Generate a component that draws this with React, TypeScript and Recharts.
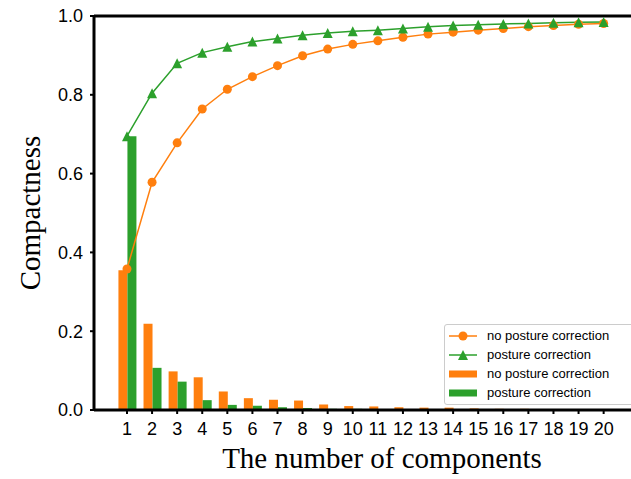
import { Bar, ComposedChart, Legend, Line, ReferenceLine, XAxis, YAxis } from "recharts";

const ORANGE = "#ff7f0e";
const GREEN = "#2ca02c";

const components = [1, 2, 3, 4, 5, 6, 7, 8, 9, 10, 11, 12, 13, 14, 15, 16, 17, 18, 19, 20];
const noCorrCumulative = [0.358, 0.578, 0.678, 0.764, 0.814, 0.846, 0.874, 0.899, 0.916, 0.928, 0.937, 0.946, 0.954, 0.959, 0.964, 0.968, 0.973, 0.976, 0.979, 0.981];
const corrCumulative = [0.695, 0.804, 0.88, 0.907, 0.922, 0.935, 0.943, 0.951, 0.957, 0.961, 0.964, 0.968, 0.973, 0.976, 0.978, 0.98, 0.981, 0.983, 0.984, 0.985];
const noCorrSingle = [0.355, 0.219, 0.098, 0.083, 0.047, 0.03, 0.026, 0.024, 0.014, 0.01, 0.009, 0.007, 0.006, 0.006, 0.004, 0.003, 0.003, 0.002, 0.002, 0.002];
const corrSingle = [0.695, 0.107, 0.072, 0.025, 0.013, 0.011, 0.007, 0.005, 0.003, 0.003, 0.002, 0.002, 0.002, 0.002, 0.001, 0.001, 0.001, 0.001, 0.001, 0.001];
const yTicks = [0, 0.2, 0.4, 0.6, 0.8, 1.0];

const data = components.map((n, i) => ({
  n,
  noCorrCum: noCorrCumulative[i],
  corrCum: corrCumulative[i],
  noCorr: noCorrSingle[i],
  corr: corrSingle[i],
}));

const TICK_FONT = "'Liberation Sans', Arial, sans-serif";
const TITLE_FONT = "'Liberation Serif', 'Times New Roman', serif";

function Circle({ cx, cy }: any) {
  if (cx == null || cy == null) return null;
  return <circle cx={cx} cy={cy} r={4.5} fill={ORANGE} />;
}

function Triangle({ cx, cy }: any) {
  if (cx == null || cy == null) return null;
  const s = 5;
  return <path d={`M${cx},${cy - s} L${cx - s},${cy + s} L${cx + s},${cy + s} Z`} fill={GREEN} />;
}

function LegendBox() {
  const rows = [
    { kind: "line", color: ORANGE, label: "no posture correction" },
    { kind: "tri", color: GREEN, label: "posture correction" },
    { kind: "bar", color: ORANGE, label: "no posture correction" },
    { kind: "bar", color: GREEN, label: "posture correction" },
  ];
  return (
    <div
      style={{
        border: "1px solid #cccccc",
        borderRadius: 3,
        background: "rgba(255,255,255,0.8)",
        width: 200,
        height: 81,
        boxSizing: "border-box",
        padding: "1px 0 0 3px",
        fontFamily: TICK_FONT,
        fontSize: 13,
        color: "#000",
      }}
    >
      {rows.map((r, i) => (
        <div key={i} style={{ display: "flex", alignItems: "center", height: 19 }}>
          <svg width={30} height={12} style={{ marginRight: 9 }}>
            {r.kind === "bar" ? (
              <rect x={1} y={2.5} width={28} height={7} fill={r.color} />
            ) : (
              <>
                <line x1={1} y1={6} x2={29} y2={6} stroke={r.color} strokeWidth={1.5} />
                {r.kind === "line" ? (
                  <circle cx={15} cy={6} r={4.5} fill={r.color} />
                ) : (
                  <path d="M15,1 L10,11 L20,11 Z" fill={r.color} />
                )}
              </>
            )}
          </svg>
          <span>{r.label}</span>
        </div>
      ))}
    </div>
  );
}

export default function App() {
  return (
    <div style={{ position: "fixed", left: 0, top: 0, width: 631, height: 479, overflow: "hidden", background: "#fff" }}>
      <ComposedChart
        width={680}
        height={479}
        data={data}
        margin={{ top: 16, right: 11, bottom: 0, left: 0 }}
        barGap={0}
      >
        <XAxis
          dataKey="n"
          type="number"
          domain={[-0.3145, 22.605]}
          ticks={components}
          interval={0}
          height={69}
          axisLine={{ stroke: "#000", strokeWidth: 3 }}
          tickLine={{ stroke: "#000", strokeWidth: 2 }}
          tickSize={4}
          tickMargin={8}
          tick={{ fill: "#000", fontSize: 18, fontFamily: TICK_FONT }}
          label={() => (
            <text x={382} y={468} textAnchor="middle" fontFamily={TITLE_FONT} fontSize={29} fill="#000">
              The number of components
            </text>
          )}
        />
        <YAxis
          type="number"
          domain={[0, 1]}
          ticks={yTicks}
          width={94}
          axisLine={{ stroke: "#000", strokeWidth: 3 }}
          tickLine={{ stroke: "#000", strokeWidth: 2 }}
          tickSize={4}
          tickMargin={7}
          tickFormatter={(v: number) => v.toFixed(1)}
          tick={{ fill: "#000", fontSize: 18, fontFamily: TICK_FONT }}
          label={() => (
            <text
              x={40}
              y={213}
              transform="rotate(-90 40 213)"
              textAnchor="middle"
              fontFamily={TITLE_FONT}
              fontSize={29}
              fill="#000"
            >
              Compactness
            </text>
          )}
        />
        <ReferenceLine y={1} stroke="#000" strokeWidth={3} />
        <Bar dataKey="noCorr" name="no posture correction" fill={ORANGE} barSize={9} isAnimationActive={false} />
        <Bar dataKey="corr" name="posture correction" fill={GREEN} barSize={9} isAnimationActive={false} />
        <Line
          dataKey="noCorrCum"
          name="no posture correction"
          stroke={ORANGE}
          strokeWidth={1.5}
          dot={<Circle />}
          activeDot={false}
          isAnimationActive={false}
        />
        <Line
          dataKey="corrCum"
          name="posture correction"
          stroke={GREEN}
          strokeWidth={1.5}
          dot={<Triangle />}
          activeDot={false}
          isAnimationActive={false}
        />
        <Legend
          layout="vertical"
          align="center"
          verticalAlign="middle"
          content={() => <LegendBox />}
          wrapperStyle={{ left: 444, top: 324, width: 200, height: 81 }}
        />
      </ComposedChart>
    </div>
  );
}
